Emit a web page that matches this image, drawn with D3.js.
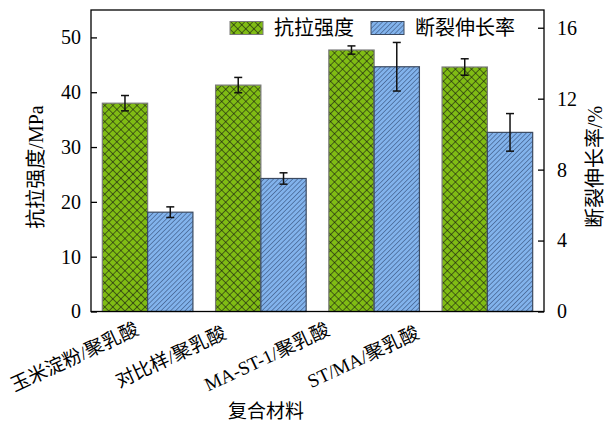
<!DOCTYPE html>
<html>
<head>
<meta charset="utf-8">
<script src="https://cdn.jsdelivr.net/npm/d3@7"></script>
<style>
html,body{margin:0;padding:0;background:#fff;}
svg{display:block;}
text{font-family:"Liberation Serif","Noto Sans CJK SC",serif;fill:#000;}
</style>
</head>
<body>
<svg id="chart" width="612" height="423"></svg>
<script>
const categories = ["玉米淀粉/聚乳酸", "对比样/聚乳酸", "MA-ST-1/聚乳酸", "ST/MA/聚乳酸"];
const tensile = [38.0, 41.3, 47.7, 44.6];
const tensileErr = [1.4, 1.4, 0.75, 1.5];
const elongation = [5.6, 7.5, 13.8, 10.1];
const elongationErr = [0.3, 0.32, 1.37, 1.06];
const leftTicks = [0, 10, 20, 30, 40, 50];
const rightTicks = [0, 4, 8, 12, 16];
const seriesNames = ["抗拉强度", "断裂伸长率"];
const leftTitle = "抗拉强度/MPa";
const rightTitle = "断裂伸长率/%";
const xTitle = "复合材料";

const svg = d3.select("#chart");
const L = 91, R = 544, T = 10, B = 311.5;

const x = d3.scaleBand().domain(categories).range([L, R]).paddingInner(0.2).paddingOuter(0.1);
const xs = d3.scaleBand().domain([0, 1]).range([0, x.bandwidth()]);
const yL = d3.scaleLinear().domain([0, 55]).range([B, T]);
const yR = d3.scaleLinear().domain([0, 17]).range([B, T]);

const defs = svg.append("defs");
const pg = defs.append("pattern").attr("id", "pGreen").attr("patternUnits", "userSpaceOnUse")
  .attr("width", 5.7).attr("height", 5.7).attr("patternTransform", "rotate(45)");
pg.append("rect").attr("width", 5.7).attr("height", 5.7).attr("fill", "#80bc14");
pg.append("line").attr("x1", 0).attr("y1", 0).attr("x2", 0).attr("y2", 5.7).attr("stroke", "#111").attr("stroke-width", 1.1);
pg.append("line").attr("x1", 0).attr("y1", 0).attr("x2", 5.7).attr("y2", 0).attr("stroke", "#111").attr("stroke-width", 1.1);

const pb = defs.append("pattern").attr("id", "pBlue").attr("patternUnits", "userSpaceOnUse")
  .attr("width", 3.4).attr("height", 3.4).attr("patternTransform", "rotate(45)");
pb.append("rect").attr("width", 3.4).attr("height", 3.4).attr("fill", "#82b3ec");
pb.append("line").attr("x1", 0).attr("y1", 0).attr("x2", 0).attr("y2", 3.4).attr("stroke", "#1f3258").attr("stroke-width", 0.9);

const fills = ["url(#pGreen)", "url(#pBlue)"];
const strokes = ["#7a7a7a", "#3c4a60"];

// bars
const series = [
  {vals: tensile, err: tensileErr, y: yL},
  {vals: elongation, err: elongationErr, y: yR}
];
series.forEach((s, si) => {
  svg.append("g").selectAll("rect").data(categories).join("rect")
    .attr("x", (d) => x(d) + xs(si))
    .attr("y", (d, i) => s.y(s.vals[i]))
    .attr("width", xs.bandwidth())
    .attr("height", (d, i) => B - s.y(s.vals[i]))
    .attr("fill", fills[si])
    .attr("stroke", strokes[si])
    .attr("stroke-width", 1.2);
});
// error bars
series.forEach((s, si) => {
  const g = svg.append("g").attr("stroke", "#111").attr("stroke-width", 1.5);
  categories.forEach((c, i) => {
    const cx = x(c) + xs(si) + xs.bandwidth() / 2;
    const y1 = s.y(s.vals[i] + s.err[i]), y2 = s.y(s.vals[i] - s.err[i]);
    g.append("line").attr("x1", cx).attr("x2", cx).attr("y1", y1).attr("y2", y2);
    g.append("line").attr("x1", cx - 4).attr("x2", cx + 4).attr("y1", y1).attr("y2", y1);
    g.append("line").attr("x1", cx - 4).attr("x2", cx + 4).attr("y1", y2).attr("y2", y2);
  });
});

// frame
svg.append("rect").attr("x", L).attr("y", T).attr("width", R - L).attr("height", B - T)
  .attr("fill", "none").attr("stroke", "#000").attr("stroke-width", 1.3);

// axes
const axL = d3.axisLeft(yL).tickValues(leftTicks).tickSizeInner(-6).tickSizeOuter(0).tickPadding(10);
const gL = svg.append("g").attr("transform", `translate(${L},0)`).call(axL);
const axR = d3.axisRight(yR).tickValues(rightTicks).tickSizeInner(-6).tickSizeOuter(0).tickPadding(13);
const gR = svg.append("g").attr("transform", `translate(${R},0)`).call(axR);
[gL, gR].forEach(g => {
  g.select(".domain").remove();
  g.selectAll("line").attr("stroke", "#000").attr("stroke-width", 1.3);
  g.selectAll("text").attr("font-size", 20).attr("font-family", "Liberation Serif");
});

// x labels
svg.append("g").selectAll("text").data(categories).join("text")
  .attr("transform", (d, i) => `translate(${74.5 + i * 96.2},${357}) rotate(-25)`)
  .attr("text-anchor", "middle").attr("dominant-baseline", "central")
  .attr("font-size", 19).text(d => d);

// titles
svg.append("text").attr("x", 266).attr("y", 411).attr("text-anchor", "middle")
  .attr("dominant-baseline", "central").attr("font-size", 19).text(xTitle);
svg.append("text").attr("transform", "translate(36,167) rotate(-90)").attr("text-anchor", "middle")
  .attr("dominant-baseline", "central").attr("font-size", 20).text(leftTitle);
svg.append("text").attr("transform", "translate(595,167) rotate(-90)").attr("text-anchor", "middle")
  .attr("dominant-baseline", "central").attr("font-size", 20).text(rightTitle);

// legend
const legX = [230, 371];
seriesNames.forEach((n, i) => {
  svg.append("rect").attr("x", legX[i]).attr("y", 21.5).attr("width", 33).attr("height", 13)
    .attr("fill", fills[i]).attr("stroke", strokes[i]).attr("stroke-width", 1);
  svg.append("text").attr("x", legX[i] + 44).attr("y", 28).attr("dominant-baseline", "central")
    .attr("font-size", 20).text(n);
});
</script>
</body>
</html>
